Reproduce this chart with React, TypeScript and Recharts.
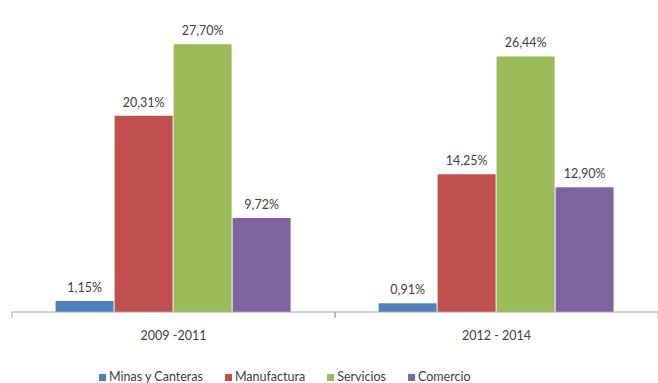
import { Bar, BarChart, LabelList, Legend, XAxis, YAxis } from "recharts";

const categories = ["2009 -2011", "2012 - 2014"];
const minas = [1.15, 0.91];
const manufactura = [20.31, 14.25];
const servicios = [27.7, 26.44];
const comercio = [9.72, 12.9];

const seriesNames = ["Minas y Canteras", "Manufactura", "Servicios", "Comercio"];
const seriesKeys = ["minas", "manufactura", "servicios", "comercio"];
const seriesColors = ["#4f81bd", "#c0504d", "#9bbb59", "#8064a2"];

const data = categories.map((c, i) => ({
  name: c,
  minas: minas[i],
  manufactura: manufactura[i],
  servicios: servicios[i],
  comercio: comercio[i],
}));

const fmt = (v: any) => Number(v).toFixed(2).replace(".", ",") + "%";

const FONT = "Lato, 'Liberation Sans', sans-serif";
const TEXT = "#404040";

function CatTick(props: any) {
  const { x, y, payload } = props;
  const half = payload?.offset || 161.5;
  return (
    <g>
      <line x1={x - half} y1={y} x2={x - half} y2={y + 6} stroke="#a6a6a6" />
      <line x1={x + half} y1={y} x2={x + half} y2={y + 6} stroke="#a6a6a6" />
      <text x={x} y={y + 28} textAnchor="middle" fontSize={12.5} fill={TEXT} fontFamily={FONT}>
        {payload.value}
      </text>
    </g>
  );
}

function LegendBox() {
  return (
    <div
      style={{
        display: "flex",
        gap: 22,
        paddingLeft: 87,
        fontFamily: FONT,
        fontSize: 12.5,
        color: TEXT,
        lineHeight: "18px",
      }}
    >
      {seriesNames.map((n, i) => (
        <div key={n} style={{ display: "flex", alignItems: "center" }}>
          <span
            style={{ width: 7, height: 7, background: seriesColors[i], marginRight: 3, display: "inline-block" }}
          />
          <span>{n}</span>
        </div>
      ))}
    </div>
  );
}

export default function App() {
  return (
    <div style={{ position: "absolute", left: 0, top: 0, background: "#fff" }}>
      <BarChart
        width={658}
        height={383}
        data={data}
        margin={{ top: 22, right: 0, left: 12, bottom: 0 }}
        barCategoryGap="13.5%"
        barGap={1}
      >
        <XAxis
          dataKey="name"
          axisLine={{ stroke: "#a6a6a6" }}
          tickLine={false}
          tickSize={0}
          tickMargin={0}
          height={53}
          tick={<CatTick />}
          interval={0}
        />
        <YAxis hide domain={[0, 30]} />
        <Legend
          verticalAlign="bottom"
          align="left"
          height={18}
          wrapperStyle={{ bottom: -3 }}
          content={<LegendBox />}
        />
        {seriesKeys.map((k, i) => (
          <Bar key={k} dataKey={k} name={seriesNames[i]} fill={seriesColors[i]} isAnimationActive={false}>
            <LabelList
              dataKey={k}
              position="top"
              offset={9}
              formatter={fmt}
              fill={TEXT}
              fontSize={12.5}
              fontFamily={FONT}
            />
          </Bar>
        ))}
      </BarChart>
    </div>
  );
}
